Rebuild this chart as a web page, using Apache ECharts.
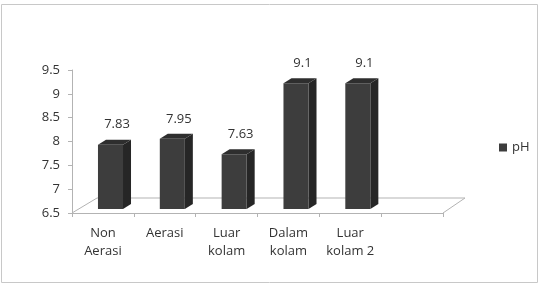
<!DOCTYPE html>
<html><head><meta charset="utf-8">
<script src="https://cdn.jsdelivr.net/npm/echarts@6/dist/echarts.min.js"></script>
<style>html,body{margin:0;padding:0;background:#fff}#c{width:542px;height:286px}</style>
</head><body><div id="c"></div>
<script>
var categories = ['Non\nAerasi', 'Aerasi', 'Luar\nkolam', 'Dalam\nkolam', 'Luar\nkolam 2'];
var phValues = [7.83, 7.95, 7.63, 9.1, 9.1];
var seriesName = 'pH';
var yMin = 6.5, yMax = 9.5, yStep = 0.5;

var axisCats = categories.concat(['']);
var FONT = '"Open Sans", "Noto Sans", sans-serif';
var chart = echarts.init(document.getElementById('c'), null, {renderer: 'canvas'});

function renderBar(params, api) {
  var i = api.value(0), v = api.value(1);
  var c = api.coord([i, v]);
  var b = api.coord([i, yMin]);
  var bw = api.size([1, 0])[0];
  var L = c[0] - bw * 0.08;
  var W = bw * 0.405, dx = 8, dy = 5;
  var B = b[1] - 4;
  var T = B - (b[1] - c[1]) * 1.015;
  return {
    type: 'group',
    children: [
      {type: 'polygon', shape: {points: [[L + W, B], [L + W, T], [L + W + dx, T - dy], [L + W + dx, B - dy]]}, style: {fill: '#262626'}},
      {type: 'polygon', shape: {points: [[L, T], [L + W, T], [L + W + dx, T - dy], [L + dx, T - dy]]}, style: {fill: '#2e2e2e'}},
      {type: 'rect', shape: {x: L, y: T, width: W, height: B - T}, style: {fill: '#3d3d3d'}},
      {type: 'text', style: {text: String(v), x: L + W * 0.76, y: T - 20, align: 'center', verticalAlign: 'middle', fill: '#333333', font: '13px ' + FONT}}
    ]
  };
}

function renderFloor(params, api) {
  var bw = api.size([1, 0])[0];
  var p0 = api.coord([0, yMin]);
  var p1 = api.coord([axisCats.length - 1, yMin]);
  var left = p0[0] - bw / 2, right = p1[0] + bw / 2, y = p0[1];
  return {
    type: 'polyline',
    shape: {points: [[left, y], [left + 25, y - 15], [right + 22, y - 15], [right, y]]},
    style: {stroke: '#b3b3b3', lineWidth: 1, fill: null}
  };
}

chart.setOption({
  animation: false,
  textStyle: {fontFamily: FONT},
  graphic: [{type: 'rect', shape: {x: 1.5, y: 4.5, width: 536, height: 278}, style: {fill: null, stroke: '#c8c8c8', lineWidth: 1}, silent: true}],
  grid: {left: 72, right: 99, top: 70, bottom: 73},
  legend: {
    data: [seriesName], left: 494, top: 136, itemWidth: 8, itemHeight: 8, icon: 'rect', itemGap: 4,
    textStyle: {fontSize: 13, color: '#333333', fontFamily: FONT}
  },
  xAxis: {
    type: 'category', data: axisCats, boundaryGap: true,
    axisLine: {lineStyle: {color: '#b3b3b3'}},
    axisTick: {show: true, length: 4, lineStyle: {color: '#b3b3b3'}},
    axisLabel: {color: '#333333', fontSize: 13, lineHeight: 18, margin: 11, interval: 0, fontFamily: FONT}
  },
  yAxis: {
    type: 'value', min: yMin, max: yMax, interval: yStep,
    splitLine: {show: false},
    axisLine: {show: true, lineStyle: {color: '#b3b3b3'}},
    axisTick: {show: true, length: 4, lineStyle: {color: '#b3b3b3'}},
    axisLabel: {color: '#333333', fontSize: 13, margin: 12, fontFamily: FONT}
  },
  series: [
    {type: 'custom', name: 'floor', silent: true, renderItem: renderFloor, data: [[0]], z: 1},
    {type: 'custom', name: seriesName, renderItem: renderBar, itemStyle: {color: '#3d3d3d'},
     data: phValues.map(function (v, i) { return [i, v]; }), z: 2}
  ]
});
</script></body></html>
